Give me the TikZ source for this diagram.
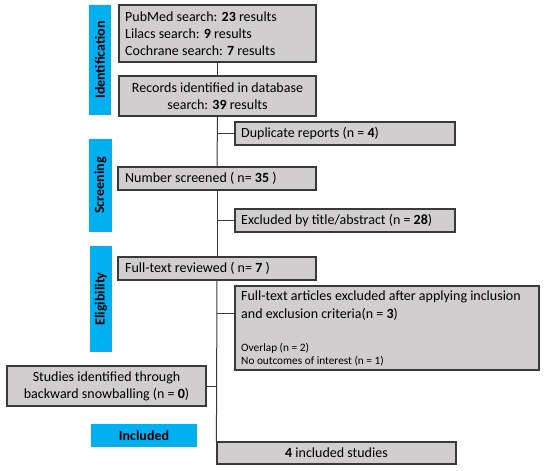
\documentclass[tikz,border=0pt]{standalone}
\usepackage{fontspec}
\setmainfont{Carlito}
\definecolor{gfill}{HTML}{D0CECE}
\definecolor{gline}{HTML}{3A3A3A}
\definecolor{cyanbar}{HTML}{00B0F0}
\begin{document}
\begin{tikzpicture}[x=1pt,y=-1pt,
  gbox/.style={draw=gline,fill=gfill,line width=1.2pt,inner sep=0pt,font=\fontsize{14}{17}\selectfont},
  bbar/.style={fill=cyanbar,inner sep=0pt,font=\bfseries\fontsize{14}{17}\selectfont},
  vlab/.style={rotate=90,inner sep=0pt,font=\bfseries\fontsize{14}{17}\selectfont},
  conn/.style={draw=gline,line width=1pt},
  txt/.style={inner sep=0pt,font=\fontsize{14}{17.3}\selectfont,align=left},
  small/.style={inner sep=0pt,font=\fontsize{11.3}{13.5}\selectfont,align=left}]
\useasboundingbox (0,0) rectangle (550,471);
% blue phase bars
\node[bbar,minimum width=22pt,minimum height=110pt] (pid) at (100,60) {};
\node[vlab] (pidT) at (pid.center) {Identification};
\node[bbar,minimum width=23pt,minimum height=93pt] (psc) at (100.5,185.5) {};
\node[vlab] (pscT) at (psc.center) {Screening};
\node[bbar,minimum width=22pt,minimum height=106pt] (pel) at (101,299) {};
\node[vlab] (pelT) at (pel.center) {Eligibility};
\node[bbar,minimum width=106pt,minimum height=23pt] (pin) at (144,435.5) {Included};
% gray boxes
\node[gbox,minimum width=197pt,minimum height=57pt] (b1) at (217.5,33.5) {};
\node[txt,anchor=west] (b1T) at (125,33.5) {PubMed search: \textbf{23} results\\Lilacs search: \textbf{9} results\\Cochrane search: \textbf{7} results};
\node[gbox,minimum width=197pt,minimum height=40pt,align=center] (b2) at (217.5,96) {Records identified in database\\search: \textbf{39} results};
\node[gbox,minimum width=220pt,minimum height=23pt] (dup) at (345,133.5) {};
\node[txt,anchor=west] (dupT) at (241,133.5) {Duplicate reports (n = \textbf{4})};
\node[gbox,minimum width=198pt,minimum height=23pt] (scr) at (217,178.5) {};
\node[txt,anchor=west] (scrT) at (125,178.5) {Number screened ( n= \textbf{35} )};
\node[gbox,minimum width=220pt,minimum height=23pt] (ext) at (345,220.5) {};
\node[txt,anchor=west] (extT) at (241,220.5) {Excluded by title/abstract (n = \textbf{28})};
\node[gbox,minimum width=198pt,minimum height=23pt] (ftr) at (217,268.5) {};
\node[txt,anchor=west] (ftrT) at (125,268.5) {Full-text reviewed ( n= \textbf{7} )};
\node[gbox,minimum width=304pt,minimum height=84pt] (fte) at (387,328) {};
\node[txt,anchor=west] (fteT) at (241,305.5) {Full-text articles excluded after applying inclusion\\and exclusion criteria(n = \textbf{3})};
\node[small,anchor=west] (fteS) at (241,354.5) {Overlap (n = 2)\\No outcomes of interest (n = 1)};
\node[gbox,minimum width=199pt,minimum height=40pt,align=center] (snow) at (106.5,386) {Studies identified through\\backward snowballing (n = \textbf{0})};
\node[gbox,minimum width=239pt,minimum height=22pt] (inc) at (336.5,453) {\textbf{4} included studies};
% connectors
\coordinate (fteC) at (235,313);
\draw[conn] (b1.south) -- (b2.north);
\draw[conn] (b2.south) -- (scr.north);
\draw[conn] (scr.south) -- (ftr.north);
\draw[conn] (ftr.south) -- (inc.north west);
\draw[conn] (dup.west) -- (dup.west -| b2.south);
\draw[conn] (ext.west) -- (ext.west -| scr.south);
\draw[conn] (fteC) -- (fteC -| ftr.south);
\draw[conn] (snow.east) -- (snow.east -| ftr.south);
\end{tikzpicture}
\end{document}
